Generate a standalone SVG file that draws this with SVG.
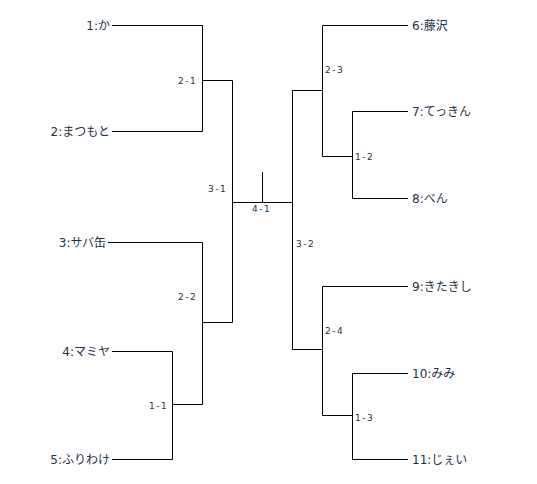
<svg xmlns="http://www.w3.org/2000/svg" width="537" height="484" viewBox="0 0 537 484">
<style>
.ln{stroke:#000;stroke-width:1;fill:none}
.nm{font-family:"DejaVu Sans","Noto Sans CJK JP",sans-serif;font-size:12px;fill:#1e3246}
.l{text-anchor:end}
.sc{font-family:"DejaVu Sans","Noto Sans CJK JP",sans-serif;font-size:9px;fill:#1e3246;letter-spacing:1.5px}
</style>
<rect width="537" height="484" fill="#fff"/>
<g id="connectors" class="ln">
<path d="M112 25.5H202.5V131.5H112"/>
<path d="M202.5 80.5H232.5V322.5"/>
<path d="M108 242.5H202.5V404.5"/>
<path d="M202.5 322.5H232.5"/>
<path d="M112 351.5H172.5V459.5H112"/>
<path d="M172.5 404.5H202.5"/>
<path d="M232.5 202.5H292.5"/>
<path d="M262.5 172V202.5"/>
<path d="M292.5 90.5V349.5"/>
<path d="M408 25.5H322.5V156.5H352.5"/>
<path d="M292.5 90.5H322.5"/>
<path d="M408 111.5H352.5V198.5H408"/>
<path d="M408 286.5H322.5V415.5H352.5"/>
<path d="M292.5 349.5H322.5"/>
<path d="M408 373.5H352.5V459.5H408"/>
</g>
<g id="n1"><text class="nm l" x="110" y="30">1:か</text></g>
<g id="n2"><text class="nm l" x="110" y="136">2:まつもと</text></g>
<g id="n3"><text class="nm l" x="106" y="247">3:サバ缶</text></g>
<g id="n4"><text class="nm l" x="110" y="356">4:マミヤ</text></g>
<g id="n5"><text class="nm l" x="110" y="464">5:ふりわけ</text></g>
<g id="n6"><text class="nm" x="412" y="30">6:藤沢</text></g>
<g id="n7"><text class="nm" x="412" y="116">7:てっきん</text></g>
<g id="n8"><text class="nm" x="412" y="203">8:べん</text></g>
<g id="n9"><text class="nm" x="412" y="291">9:きたきし</text></g>
<g id="n10"><text class="nm" x="412" y="378">10:みみ</text></g>
<g id="n11"><text class="nm" x="412" y="464">11:じぇい</text></g>
<g id="m21"><text class="sc" x="178" y="84">2-1</text></g>
<g id="m31"><text class="sc" x="208" y="192">3-1</text></g>
<g id="m41"><text class="sc" x="252" y="212">4-1</text></g>
<g id="m32"><text class="sc" x="296" y="247">3-2</text></g>
<g id="m22"><text class="sc" x="178" y="300">2-2</text></g>
<g id="m11"><text class="sc" x="149" y="409">1-1</text></g>
<g id="m23"><text class="sc" x="325" y="73">2-3</text></g>
<g id="m12"><text class="sc" x="355" y="160">1-2</text></g>
<g id="m24"><text class="sc" x="325" y="334">2-4</text></g>
<g id="m13"><text class="sc" x="355" y="421">1-3</text></g>
</svg>
